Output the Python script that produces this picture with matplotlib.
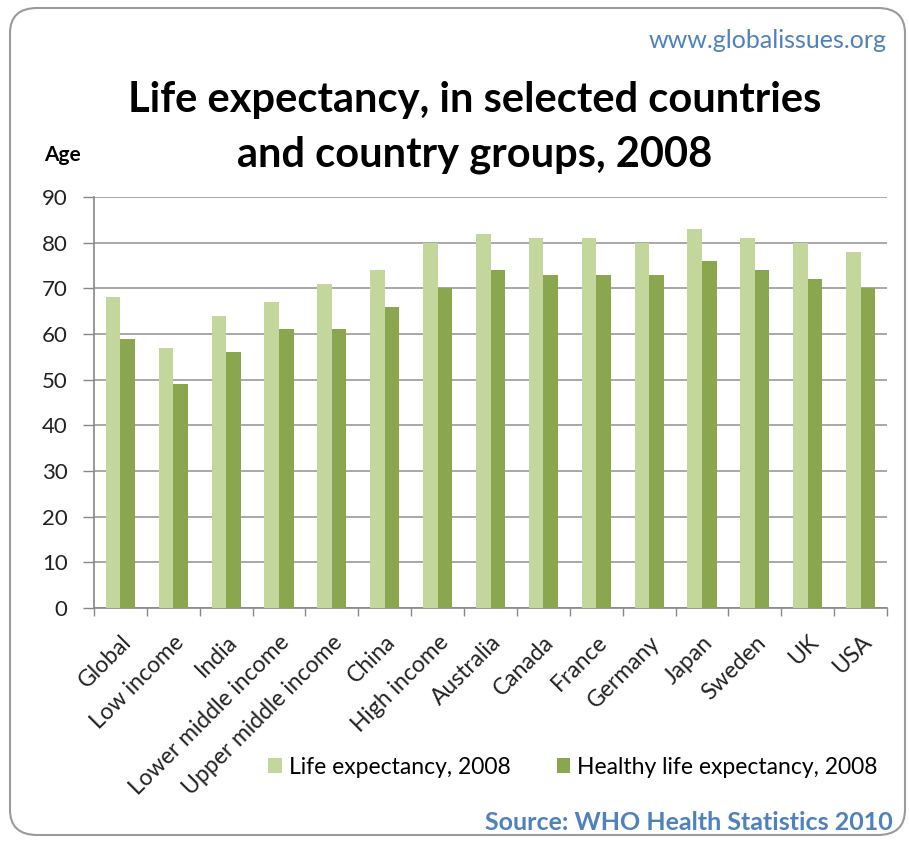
import matplotlib
matplotlib.use("Agg")
import matplotlib.pyplot as plt
import numpy as np
from matplotlib.patches import FancyBboxPatch, Patch

categories = ["Global", "Low income", "India", "Lower middle income", "Upper middle income",
              "China", "High income", "Australia", "Canada", "France", "Germany", "Japan",
              "Sweden", "UK", "USA"]
life_exp = [68, 57, 64, 67, 71, 74, 80, 82, 81, 81, 80, 83, 81, 80, 78]
healthy_exp = [59, 49, 56, 61, 61, 66, 70, 74, 73, 73, 73, 76, 74, 72, 70]
yticks = [0, 10, 20, 30, 40, 50, 60, 70, 80, 90]

FONT = ["Lato", "DejaVu Sans"]
plt.rcParams["font.family"] = FONT

light = "#C3D69B"
dark = "#8AA64E"
blue = "#4F81BD"

W, H = 909, 843
fig = plt.figure(figsize=(W / 100, H / 100), dpi=100)
fig.patch.set_facecolor("white")

# rounded frame
frame = FancyBboxPatch((10 / W, 8 / H), (W - 14) / W, (H - 16) / H,
                       boxstyle="round,pad=0,rounding_size=0.03",
                       transform=fig.transFigure, facecolor="none",
                       edgecolor="#9a9a9a", linewidth=1.5, zorder=-1)
fig.patches.append(frame)

left, right, bottom, top = 94, 887, 608, 197
ax = fig.add_axes([left / W, 1 - bottom / H, (right - left) / W, (bottom - top) / H])
ax.set_facecolor("none")

x = np.arange(len(categories))
bw = 0.275
ax.bar(x - bw / 2, life_exp, width=bw, color=light, label="Life expectancy, 2008", zorder=3)
ax.bar(x + bw / 2, healthy_exp, width=bw, color=dark, label="Healthy life expectancy, 2008", zorder=3)

ax.set_xlim(-0.5, len(categories) - 0.5)
ax.set_ylim(0, 90)
ax.set_yticks(yticks)
ax.set_yticklabels([str(v) for v in yticks], fontsize=16, color="#222222")
ax.yaxis.grid(True, color="#9a9a9a", linewidth=1.2, zorder=0)
ax.set_axisbelow(True)

ax.set_xticks(x)
ax.set_xticklabels(categories, rotation=45, ha="right", va="top",
                   rotation_mode="anchor", fontsize=16.5, color="#222222")
ax.tick_params(axis="x", length=0, pad=17)
ax.set_xticks(np.arange(-0.5, len(categories), 1), minor=True)
ax.tick_params(axis="x", which="minor", length=6, color="#888888", width=1)
ax.tick_params(axis="y", length=8, color="#888888", width=1, pad=11)

for s in ["top", "right"]:
    ax.spines[s].set_visible(False)
for s in ["left", "bottom"]:
    ax.spines[s].set_color("#888888")
    ax.spines[s].set_linewidth(1.2)

fig.text(475 / W, 1 - 100 / H, "Life expectancy, in selected countries",
         ha="center", va="center", fontsize=30, fontweight="bold", color="black")
fig.text(475 / W, 1 - 155 / H, "and country groups, 2008",
         ha="center", va="center", fontsize=30, fontweight="bold", color="black")
fig.text(44 / W, 1 - 155 / H, "Age", ha="left", va="center", fontsize=15,
         fontweight="bold", color="black")
fig.text(887 / W, 1 - 40 / H, "www.globalissues.org", ha="right", va="center",
         fontsize=18, color=blue)
fig.text(893 / W, 1 - 823 / H, "Source: WHO Health Statistics 2010", ha="right",
         va="center", fontsize=18, fontweight="bold", color=blue)

handles = [Patch(facecolor=light, label="Life expectancy, 2008"),
           Patch(facecolor=dark, label="Healthy life expectancy, 2008")]
fig.legend(handles=handles, loc="center", bbox_to_anchor=(573 / W, 1 - 767 / H),
           ncol=2, frameon=False, fontsize=16.5, handlelength=0.6, handleheight=0.6,
           handletextpad=0.3, columnspacing=2.0)

fig.savefig("out.png", dpi=100, facecolor="white")
